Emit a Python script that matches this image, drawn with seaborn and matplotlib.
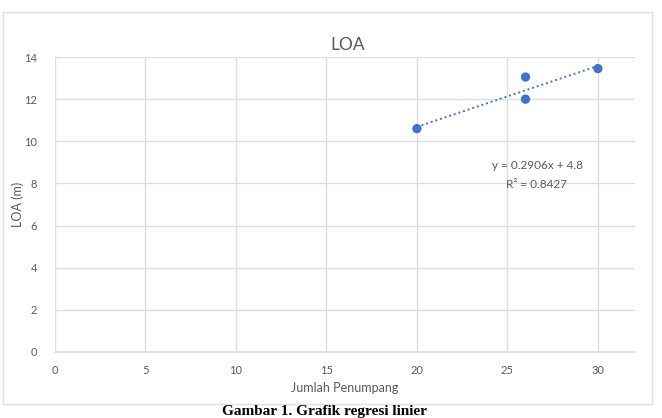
import matplotlib
matplotlib.use("Agg")
import matplotlib.pyplot as plt
import seaborn as sns
import pandas as pd
from matplotlib.patches import Rectangle

# Data
jumlah_penumpang = [20, 26, 26, 30]
loa_m = [10.6, 12.0, 13.05, 13.45]
x_ticks = [0, 5, 10, 15, 20, 25, 30]
y_ticks = [0, 2, 4, 6, 8, 10, 12, 14]
equation_text = "y = 0.2906x + 4.8"
r2_text = "R² = 0.8427"
title = "LOA"
x_label = "Jumlah Penumpang"
y_label = "LOA (m)"
caption = "Gambar 1. Grafik regresi linier"

df = pd.DataFrame({"x": jumlah_penumpang, "y": loa_m})

sns.set_theme(style="white")
plt.rcParams["font.family"] = ["Lato", "DejaVu Sans"]

blue = "#4472C4"
gray_txt = "#595959"
grid_c = "#DEDEDE"

fig = plt.figure(figsize=(6.62, 4.18), dpi=100)
fig.patch.set_facecolor("white")
ax = fig.add_axes([55/662, 1-352/418, 580/662, 295/418])

sns.regplot(data=df, x="x", y="y", ax=ax, ci=None, truncate=True,
            scatter_kws=dict(s=45, color=blue, alpha=1, zorder=3, edgecolor="none"),
            line_kws=dict(color=blue, lw=1.4, ls=(0, (1, 1.5)), zorder=2))

ax.set_xlim(0, 32.05)
ax.set_ylim(0, 14)
ax.set_xticks(x_ticks)
ax.set_yticks(y_ticks)
ax.grid(True, color=grid_c, lw=1)
ax.set_axisbelow(True)
for s in ["top", "right"]:
    ax.spines[s].set_visible(False)
ax.spines["left"].set_visible(False)
ax.spines["bottom"].set_color(grid_c)
ax.tick_params(axis="x", length=0, labelsize=8, colors=gray_txt, pad=9)
ax.tick_params(axis="y", length=0, labelsize=8, colors=gray_txt, pad=13)
ax.set_xlabel(x_label, fontsize=9, color=gray_txt, labelpad=5)
ax.set_ylabel(y_label, fontsize=9, color=gray_txt)
ax.yaxis.set_label_coords((24 - 55) / 580, 0.5)

fig.text(348/662, 1-45/418, title, ha="center", va="center", fontsize=12.5, color=gray_txt)
ax.text((537-55)/580, (352-166)/295, equation_text, transform=ax.transAxes, ha="center",
        va="center", fontsize=8.5, color=gray_txt)
ax.text((537-55)/580, (352-184)/295, r2_text, transform=ax.transAxes, ha="center",
        va="center", fontsize=8.5, color=gray_txt)

# outer chart border
fig.patches.append(Rectangle((3/662, 1-404/418), 649/662, 392/418, transform=fig.transFigure,
                             fill=False, edgecolor="#E0E0E0", lw=1))

fig.text(325/662, 1-415/418, caption, ha="center", va="baseline", fontsize=11,
         fontweight="bold", family=["Liberation Serif", "DejaVu Serif"], color="black")

fig.savefig("out.png", dpi=100, facecolor="white")
